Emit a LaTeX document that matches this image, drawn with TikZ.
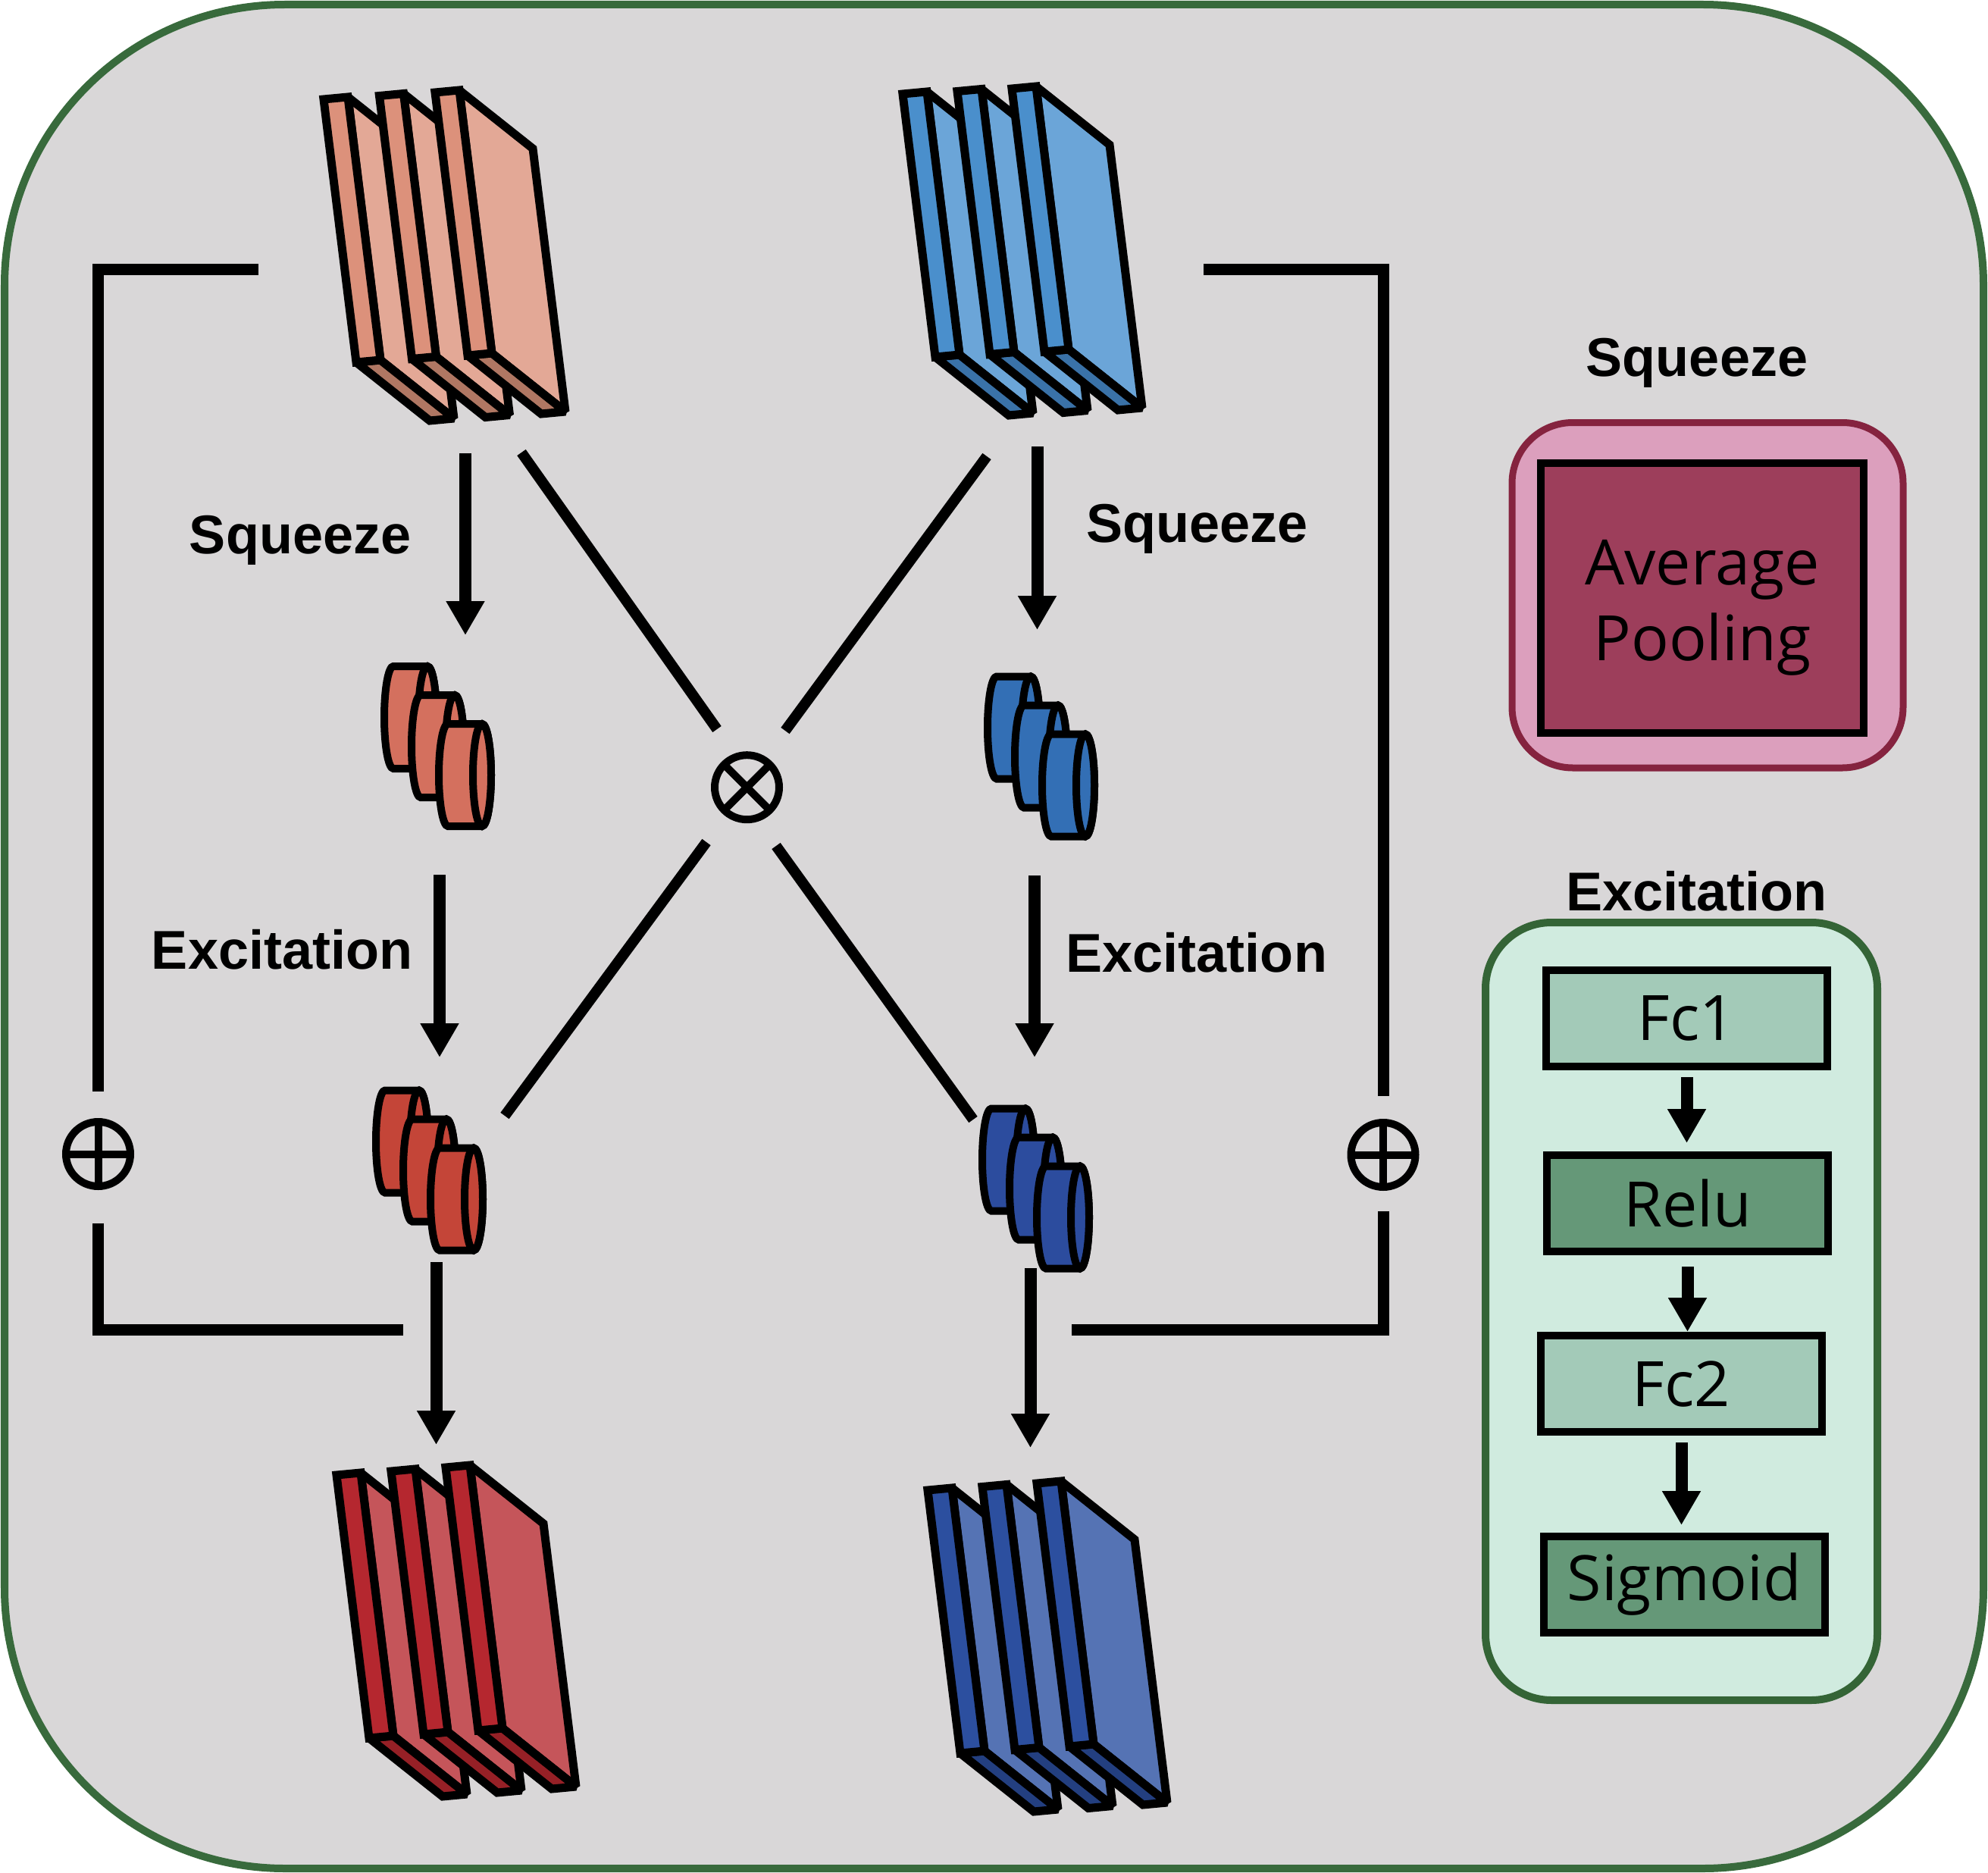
\documentclass[tikz,border=0pt]{standalone}
\usepackage{fontspec}
\usepackage{tikz}
\usetikzlibrary{arrows.meta,calc}
\newfontfamily\arialfont{Liberation Sans}
\newfontfamily\segfont{Open Sans}

\definecolor{bggray}{RGB}{217,215,216}
\definecolor{framegreen}{RGB}{56,106,60}
\definecolor{rtfront}{RGB}{220,145,123}
\definecolor{rtside}{RGB}{227,168,150}
\definecolor{rtbottom}{RGB}{176,119,99}
\definecolor{btfront}{RGB}{74,143,204}
\definecolor{btside}{RGB}{107,165,216}
\definecolor{btbottom}{RGB}{58,114,168}
\definecolor{rbfront}{RGB}{181,39,47}
\definecolor{rbside}{RGB}{197,85,90}
\definecolor{rbbottom}{RGB}{150,32,38}
\definecolor{bbfront}{RGB}{44,79,159}
\definecolor{bbside}{RGB}{85,115,180}
\definecolor{bbbottom}{RGB}{35,63,128}
\definecolor{cylrs}{RGB}{212,112,94}
\definecolor{cylre}{RGB}{196,69,56}
\definecolor{cylbs}{RGB}{51,111,181}
\definecolor{cylbe}{RGB}{44,76,158}
\definecolor{poolpink}{RGB}{220,159,189}
\definecolor{poolrim}{RGB}{133,35,63}
\definecolor{poolfill}{RGB}{157,62,91}
\definecolor{excmint}{RGB}{208,235,223}
\definecolor{excrim}{RGB}{52,100,54}
\definecolor{fclight}{RGB}{163,202,184}
\definecolor{fcdark}{RGB}{101,152,120}

\tikzset{
  fatarrow/.style={line width=0.16cm, -{Triangle[length=0.45cm,width=0.48cm]}},
  bracket/.style={line width=0.15cm},
  xline/.style={line width=0.14cm},
  lbl/.style={inner sep=0, font=\arialfont\bfseries\fontsize{20.5pt}{24pt}\selectfont},
  opnode/.style={circle, draw, line width=0.1cm, minimum size=0.85cm, inner sep=0, outer sep=0},
  fcbox/.style={draw, line width=0.1cm, minimum width=3.71cm, minimum height=1.27cm, inner sep=0,
    font=\segfont\fontsize{23.5pt}{28pt}\selectfont},
}

% one feature map slab: corner, front, side, bottom colour
\newcommand{\slab}[4]{%
  \begin{scope}[shift={#1}, line width=0.11cm, miter limit=2]
  \filldraw[fill=#3] (0.32,-0.03) -- (1.29,0.74) -- (1.72,4.21) -- (0.75,3.44) -- cycle;
  \filldraw[fill=#4] (0.43,3.47) -- (0.75,3.44) -- (1.72,4.21) -- (1.40,4.24) -- cycle;
  \filldraw[fill=#2] (0,0) -- (0.32,-0.03) -- (0.75,3.44) -- (0.43,3.47) -- cycle;
  \end{scope}}

% one squeezed channel vector: back cap centre, colour
\newcommand{\cyl}[2]{%
  \begin{scope}[shift={#1}, line width=0.1cm]
  \filldraw[fill=#2] (0,-0.675) -- (0.45,-0.675) arc[start angle=-90, end angle=90, x radius=0.12, y radius=0.675]
    -- (0,0.675) arc[start angle=90, end angle=270, x radius=0.12, y radius=0.675] -- cycle;
  \filldraw[fill=#2] (0.45,0) ellipse [x radius=0.12, y radius=0.675];
  \end{scope}}

\begin{document}
\begin{tikzpicture}[yscale=-1]

\useasboundingbox (0,0) rectangle (26.23,24.71);

\draw[line width=0.1cm, draw=framegreen, fill=bggray, rounded corners=3.7cm] (0.06,0.06) rectangle (26.17,24.65);

% cross connections
\coordinate (xa1) at (6.88,5.97);
\coordinate (xa2) at (9.46,9.62);
\coordinate (xb1) at (13.02,6.02);
\coordinate (xb2) at (10.36,9.64);
\coordinate (xc1) at (9.32,11.11);
\coordinate (xc2) at (6.66,14.72);
\coordinate (xd1) at (10.24,11.16);
\coordinate (xd2) at (12.84,14.77);
\draw[xline] (xa1) -- (xa2);
\draw[xline] (xb1) -- (xb2);
\draw[xline] (xc1) -- (xc2);
\draw[xline] (xd1) -- (xd2);

\node[opnode] (mul) at (9.855,10.387) {};
\draw[line width=0.1cm] (mul.north west) -- (mul.south east) (mul.north east) -- (mul.south west);

% residual brackets
\node[opnode] (addl) at (1.295,15.225) {};
\draw[line width=0.1cm] (addl.north) -- (addl.south) (addl.west) -- (addl.east);
\node[opnode] (addr) at (18.25,15.235) {};
\draw[line width=0.1cm] (addr.north) -- (addr.south) (addr.west) -- (addr.east);

\coordinate (lt) at (3.41,3.555);
\coordinate (lb) at (5.32,17.54);
\coordinate (rt) at (15.88,3.56);
\coordinate (rb) at (14.14,17.54);
\draw[bracket] (lt) -| ($(addl.north)+(0,-0.40)$);
\draw[bracket] ($(addl.south)+(0,0.485)$) |- (lb);
\draw[bracket] (rt) -| ($(addr.north)+(0,-0.355)$);
\draw[bracket] ($(addr.south)+(0,0.32)$) |- (rb);

% feature maps
\foreach \i in {0,1,2} \slab{(4.27+0.735*\i,1.31-0.045*\i)}{rtfront}{rtside}{rtbottom};
\foreach \i in {0,1,2} \slab{(11.91+0.72*\i,1.24-0.035*\i)}{btfront}{btside}{btbottom};
\foreach \i in {0,1,2} \slab{(4.44+0.72*\i,19.46-0.05*\i)}{rbfront}{rbside}{rbbottom};
\foreach \i in {0,1,2} \slab{(12.24+0.72*\i,19.66-0.045*\i)}{bbfront}{bbside}{bbbottom};

% channel vectors
\foreach \i in {0,1,2} \cyl{(5.19+0.36*\i,9.465+0.38*\i)}{cylrs};
\foreach \i in {0,1,2} \cyl{(5.08+0.36*\i,15.06+0.38*\i)}{cylre};
\foreach \i in {0,1,2} \cyl{(13.15+0.36*\i,9.60+0.38*\i)}{cylbs};
\foreach \i in {0,1,2} \cyl{(13.08+0.36*\i,15.30+0.38*\i)}{cylbe};

% flow arrows
\coordinate (rs1) at (6.14,5.98);
\coordinate (rs2) at (6.14,8.38);
\coordinate (re1) at (5.80,11.54);
\coordinate (re2) at (5.80,13.95);
\coordinate (ro1) at (5.755,16.65);
\coordinate (ro2) at (5.755,19.06);
\coordinate (bs1) at (13.685,5.89);
\coordinate (bs2) at (13.685,8.31);
\coordinate (be1) at (13.65,11.55);
\coordinate (be2) at (13.65,13.95);
\coordinate (bo1) at (13.595,16.73);
\coordinate (bo2) at (13.595,19.10);
\draw[fatarrow] (rs1) -- (rs2);
\draw[fatarrow] (re1) -- (re2);
\draw[fatarrow] (ro1) -- (ro2);
\draw[fatarrow] (bs1) -- (bs2);
\draw[fatarrow] (be1) -- (be2);
\draw[fatarrow] (bo1) -- (bo2);

\node[lbl, anchor=base east] (sql) at (5.43,7.305) {Squeeze};
\node[lbl, anchor=base east] (exl) at (5.45,12.78) {Excitation};
\node[lbl, anchor=base west] (sqr) at (14.33,7.15) {Squeeze};
\node[lbl, anchor=base west] (exr) at (14.06,12.82) {Excitation};

% legend
\node[lbl, anchor=base] (sqt) at (22.39,4.96) {Squeeze};
\draw[line width=0.09cm, draw=poolrim, fill=poolpink, rounded corners=0.8cm] (19.95,5.575) rectangle (25.11,10.13);
\node[draw, fill=poolfill, line width=0.1cm, minimum width=4.26cm, minimum height=3.56cm, inner sep=0, align=center,
  font=\segfont\fontsize{23.5pt}{28.6pt}\selectfont] (pool) at (22.46,7.89) {\rule{0pt}{0.85cm}Average\\Pooling};

\node[lbl, anchor=base] (ext) at (22.385,12.01) {Excitation};
\draw[line width=0.1cm, draw=excrim, fill=excmint, rounded corners=0.87cm] (19.60,12.17) rectangle (24.77,22.43);
\node[fcbox, fill=fclight] (fc1) at (22.255,13.435) {Fc1};
\node[fcbox, fill=fcdark] (relu) at (22.265,15.875) {Relu};
\node[fcbox, fill=fclight] (fc2) at (22.185,18.255) {Fc2};
\node[fcbox, fill=fcdark] (sig) at (22.225,20.905) {Sigmoid};
\draw[fatarrow, shorten <=0.09cm, shorten >=0.11cm] (fc1.south) -- (fc1.south |- relu.north);
\draw[fatarrow, shorten <=0.15cm] (relu.south) -- (relu.south |- fc2.north);
\draw[fatarrow, shorten <=0.09cm, shorten >=0.10cm] (fc2.south) -- (fc2.south |- sig.north);

\end{tikzpicture}
\end{document}
